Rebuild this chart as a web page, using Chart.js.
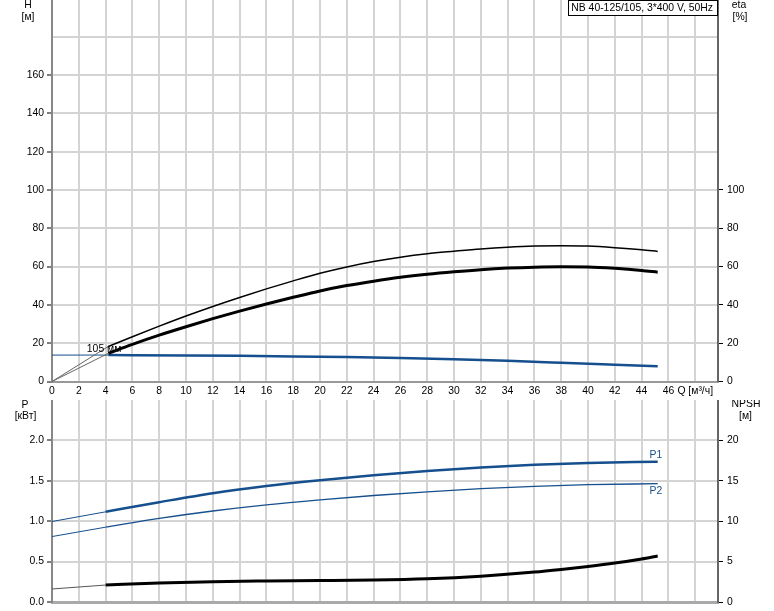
<!DOCTYPE html>
<html><head><meta charset="utf-8">
<script src="https://cdn.jsdelivr.net/npm/chart.js@4.4.1/dist/chart.umd.min.js"></script>
<style>
html,body{margin:0;padding:0;background:#fff;width:774px;height:611px;overflow:hidden;}
#c1{position:absolute;left:0;top:0;}
#c2{position:absolute;left:0;top:400px;}
</style></head><body>
<canvas id="c1" width="774" height="400"></canvas>
<canvas id="c2" width="774" height="211"></canvas>
<script>
// ---------- data ----------
const qEta      = [4.2, 6, 8, 10, 12, 14, 16, 18, 20, 22, 24, 26, 28, 30, 32, 34, 36, 38, 40, 42, 44, 45.2];
const etaPump   = [18.3, 23.4, 28.9, 34.2, 39.2, 43.9, 48.35, 52.55, 56.5, 59.8, 62.6, 64.9, 66.7, 68.0, 69.2, 70.1, 70.7, 70.9, 70.7, 69.9, 68.8, 67.9];
const etaTotal  = [14.7, 19.4, 24.2, 28.6, 32.8, 36.75, 40.45, 43.95, 47.3, 50.1, 52.4, 54.4, 56.0, 57.3, 58.4, 59.2, 59.7, 59.9, 59.8, 59.1, 58.0, 57.1];
const qEtaExt   = [0, 4.2];
const etaPumpExt  = [0, 18.3];
const etaTotalExt = [0, 14.7];

const qHead     = [4.2, 10, 14, 18, 22, 26, 30, 34, 38, 42, 45.2];
const head      = [13.8, 13.6, 13.4, 13.1, 12.75, 12.3, 11.65, 10.8, 9.8, 8.75, 7.9];
const qHeadExt  = [0, 4.2];
const headExt   = [13.8, 13.8];

const qPower    = [4, 8, 12, 16, 20, 24, 28, 32, 36, 40, 45.2];
const p1        = [1.116, 1.235, 1.347, 1.435, 1.507, 1.569, 1.622, 1.664, 1.698, 1.72, 1.736];
const p2        = [0.926, 1.034, 1.126, 1.202, 1.264, 1.318, 1.364, 1.402, 1.432, 1.452, 1.464];
const qPowerExt = [0, 4];
const p1Ext     = [0.996, 1.116];
const p2Ext     = [0.81, 0.926];

const qNpsh     = [4, 8, 12, 16, 20, 24, 28, 32, 36, 38, 40, 42, 44, 45.2];
const npsh      = [2.1, 2.35, 2.52, 2.6, 2.65, 2.72, 2.88, 3.2, 3.7, 4.03, 4.4, 4.82, 5.33, 5.7];
const qNpshExt  = [0, 4];
const npshExt   = [1.61, 2.1];

const titleText = 'NB 40-125/105, 3*400 V, 50Hz';
const curveLabel = '105 мм';
const qUnit = 'Q [м³/ч]';

// ---------- style ----------
const FONT = "'Liberation Sans', Arial, sans-serif";
const FS = 10.4;
const BLUE = '#154f8d';
const GRID = '#d4d4d4';
Chart.defaults.font.family = FONT;
Chart.defaults.font.size = FS;
Chart.defaults.color = '#000';

const pts = (xs, ys) => xs.map((x, i) => ({x: x, y: ys[i]}));
const line = (data, color, width, axis) => ({
  data: data, borderColor: color, borderWidth: width, pointRadius: 0,
  fill: false, cubicInterpolationMode: 'monotone', yAxisID: axis
});

const fixW = w => (s) => { s.width = w; s.paddingTop = 0; s.paddingBottom = 0; };
const fixH = h => (s) => { s.height = h; s.paddingLeft = 0; s.paddingRight = 0; };

const textPlugin = (fn) => ({ id: 'txt', afterDraw(chart) { const c = chart.ctx; c.save(); fn(chart, c); c.restore(); } });

const XMAX = 49.7;

function xScale(showLabels, h) {
  return {
    type: 'linear', min: 0, max: XMAX, position: 'bottom',
    afterFit: fixH(h),
    grid: { color: GRID, lineWidth: 2, drawTicks: false },
    border: { color: '#999', width: 2 },
    ticks: {
      display: showLabels, stepSize: 2, includeBounds: false, autoSkip: false, maxRotation: 0, padding: 3,
      callback: v => v === 48 ? qUnit : String(v)
    }
  };
}

// ---------- top chart ----------
new Chart(document.getElementById('c1'), {
  type: 'line',
  data: { datasets: [
    line(pts(qEtaExt, etaPumpExt), '#666', 1, 'y2'),
    line(pts(qEtaExt, etaTotalExt), '#666', 1, 'y2'),
    line(pts(qHeadExt, headExt), BLUE, 1, 'y'),
    line(pts(qEta, etaPump), '#000', 1.5, 'y2'),
    line(pts(qEta, etaTotal), '#000', 3, 'y2'),
    line(pts(qHead, head), BLUE, 2.5, 'y')
  ]},
  options: {
    responsive: false, animation: false, devicePixelRatio: 1,
    layout: { padding: 0 },
    plugins: { legend: { display: false }, tooltip: { enabled: false } },
    scales: {
      x: xScale(true, 18.5),
      y: {
        type: 'linear', position: 'left', min: 0, max: 199.2,
        afterFit: fixW(52),
        grid: { color: GRID, lineWidth: 2, tickLength: 5, tickWidth: 1,
                tickColor: c => (c.tick && c.tick.value > 160) ? 'rgba(0,0,0,0)' : '#000' },
        border: { color: '#888', width: 2 },
        ticks: { stepSize: 20, includeBounds: false, padding: 3, callback: v => v <= 160 ? String(v) : '' }
      },
      y2: {
        type: 'linear', position: 'right', min: 0, max: 199.2,
        afterFit: fixW(56),
        grid: { drawOnChartArea: false, tickLength: 5, tickWidth: 1,
                tickColor: c => (c.tick && c.tick.value > 100) ? 'rgba(0,0,0,0)' : '#000' },
        border: { color: '#666', width: 2 },
        ticks: { stepSize: 20, includeBounds: false, padding: 4, callback: v => v <= 100 ? String(v) : '' }
      }
    }
  },
  plugins: [textPlugin((chart, c) => {
    const a = chart.chartArea, xs = chart.scales.x, ys = chart.scales.y;
    c.font = FS + 'px ' + FONT; c.fillStyle = '#000';
    c.textAlign = 'center'; c.textBaseline = 'middle';
    c.fillText('H', 28, 5); c.fillText('[м]', 28, 17);
    c.fillText('eta', 739, 5); c.fillText('[%]', 740, 17);
    // title box
    const tw = c.measureText(titleText).width;
    const bx1 = a.right - 1.5, bx0 = bx1 - tw - 7;
    c.fillStyle = '#fff'; c.fillRect(bx0, 0.5, bx1 - bx0, 15);
    c.strokeStyle = '#000'; c.lineWidth = 1; c.strokeRect(Math.round(bx0) + 0.5, 0.5, Math.round(bx1 - bx0), 15);
    c.fillStyle = '#000'; c.textAlign = 'left'; c.fillText(titleText, bx0 + 3.5, 8.5);
    // curve label
    c.fillText(curveLabel, xs.getPixelForValue(2.6), ys.getPixelForValue(headExt[0]) - 5.5);
  })]
});

// ---------- bottom chart ----------
new Chart(document.getElementById('c2'), {
  type: 'line',
  data: { datasets: [
    line(pts(qPowerExt, p1Ext), BLUE, 1, 'y'),
    line(pts(qPowerExt, p2Ext), BLUE, 1, 'y'),
    line(pts(qNpshExt, npshExt), '#555', 1, 'y2'),
    line(pts(qPower, p1), BLUE, 2.5, 'y'),
    line(pts(qPower, p2), BLUE, 1.3, 'y'),
    line(pts(qNpsh, npsh), '#000', 3, 'y2')
  ]},
  options: {
    responsive: false, animation: false, devicePixelRatio: 1,
    layout: { padding: 0 },
    plugins: { legend: { display: false }, tooltip: { enabled: false } },
    scales: {
      x: Object.assign(xScale(false, 9), { border: { color: '#aaa', width: 3 } }),
      y: {
        type: 'linear', position: 'left', min: 0, max: 2.5,
        afterFit: fixW(52),
        grid: { color: c => (c.tick && c.tick.value > 2.01) ? 'rgba(0,0,0,0)' : GRID,
                lineWidth: 2, tickLength: 5, tickWidth: 1,
                tickColor: c => (c.tick && c.tick.value > 2.01) ? 'rgba(0,0,0,0)' : '#000' },
        border: { color: '#888', width: 2 },
        ticks: { stepSize: 0.5, padding: 3, callback: v => v <= 2.01 ? v.toFixed(1) : '' }
      },
      y2: {
        type: 'linear', position: 'right', min: 0, max: 25,
        afterFit: fixW(56),
        grid: { drawOnChartArea: false, tickLength: 5, tickWidth: 1,
                tickColor: c => (c.tick && c.tick.value > 20) ? 'rgba(0,0,0,0)' : '#000' },
        border: { color: '#666', width: 2 },
        ticks: { stepSize: 5, padding: 4, callback: v => v <= 20 ? String(v) : '' }
      }
    }
  },
  plugins: [textPlugin((chart, c) => {
    const xs = chart.scales.x, ys = chart.scales.y;
    c.font = FS + 'px ' + FONT; c.fillStyle = '#000';
    c.textAlign = 'center'; c.textBaseline = 'middle';
    c.fillText('P', 25, 5); c.fillText('[кВт]', 25.5, 16.5);
    c.fillText('NPSH', 746, 4.5); c.fillText('[м]', 745.5, 16.5);
    c.fillStyle = BLUE; c.textAlign = 'right';
    const xe = xs.getPixelForValue(qPower[qPower.length - 1]) + 4.5;
    c.fillText('P1', xe, ys.getPixelForValue(p1[p1.length - 1]) - 7);
    c.fillText('P2', xe, ys.getPixelForValue(p2[p2.length - 1]) + 7.5);
  })]
});
</script>
</body></html>
